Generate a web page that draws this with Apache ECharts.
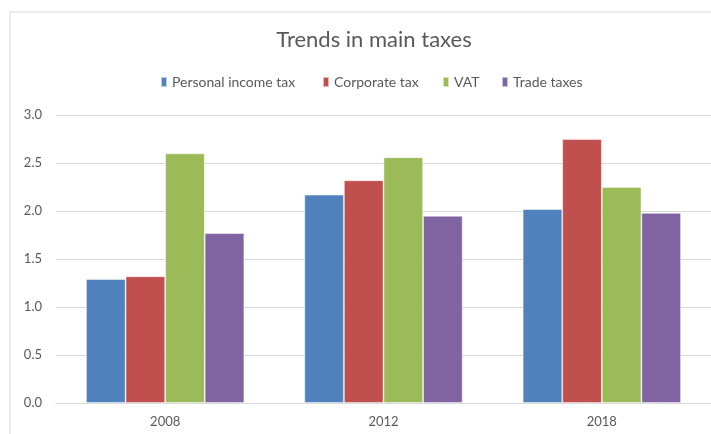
<!DOCTYPE html>
<html>
<head>
<meta charset="utf-8">
<script src="https://cdn.jsdelivr.net/npm/echarts@6/dist/echarts.min.js"></script>
<style>
  html, body { margin: 0; padding: 0; background: #fff; }
  #chart { width: 711px; height: 434px; }
</style>
</head>
<body>
<div id="chart"></div>
<script>
// Tax revenue by type, selected years
const years = ['2008', '2012', '2018'];
const personalIncomeTax = [1.29, 2.17, 2.02];
const corporateTax = [1.32, 2.32, 2.75];
const vat = [2.60, 2.56, 2.25];
const tradeTaxes = [1.77, 1.95, 1.98];

const seriesNames = ['Personal income tax', 'Corporate tax', 'VAT', 'Trade taxes'];
const seriesColors = ['#4F81BD', '#C0504D', '#9BBB59', '#8064A2'];
const seriesValues = [personalIncomeTax, corporateTax, vat, tradeTaxes];

// horizontal start of each legend entry
const legendLeft = [160, 322, 442, 501];

const FONT = "Lato, sans-serif";
const TEXT_COLOR = '#595959';
const chart = echarts.init(document.getElementById('chart'));

chart.setOption({
  animation: false,
  textStyle: { fontFamily: FONT },
  graphic: [{
    type: 'rect',
    shape: { x: 10, y: 12, width: 760, height: 460 },
    style: { fill: 'none', stroke: '#d9d9d9', lineWidth: 1 },
    silent: true,
    z: -10
  }],
  title: {
    text: 'Trends in main taxes',
    left: 369,
    textAlign: 'center',
    top: 24,
    textStyle: { fontFamily: FONT, fontSize: 22, fontWeight: 'normal', color: TEXT_COLOR }
  },
  legend: seriesNames.map((name, i) => ({
    left: legendLeft[i],
    top: 75,
    padding: 0,
    itemWidth: 6,
    itemHeight: 10,
    icon: 'rect',
    textStyle: { fontFamily: FONT, fontSize: 14, color: TEXT_COLOR },
    data: [name]
  })),
  grid: { left: 56, right: 0, top: 115, bottom: 31, containLabel: false },
  xAxis: {
    type: 'category',
    data: years,
    axisLine: { lineStyle: { color: '#d9d9d9', width: 1 } },
    axisTick: { show: false },
    axisLabel: { color: TEXT_COLOR, fontSize: 13, fontFamily: FONT, margin: 12 }
  },
  yAxis: {
    type: 'value',
    min: 0,
    max: 3,
    interval: 0.5,
    axisLine: { show: false },
    axisTick: { show: false },
    splitLine: { lineStyle: { color: '#d9d9d9', width: 1 } },
    axisLabel: {
      color: TEXT_COLOR, fontSize: 13, fontFamily: FONT, margin: 14,
      formatter: v => v.toFixed(1)
    }
  },
  series: seriesNames.map((name, i) => ({
    name,
    type: 'bar',
    data: seriesValues[i],
    barGap: '0%',
    barCategoryGap: '27.5%',
    itemStyle: { color: seriesColors[i], borderColor: 'rgba(255,255,255,0.6)', borderWidth: 0.8 }
  }))
});
</script>
</body>
</html>
